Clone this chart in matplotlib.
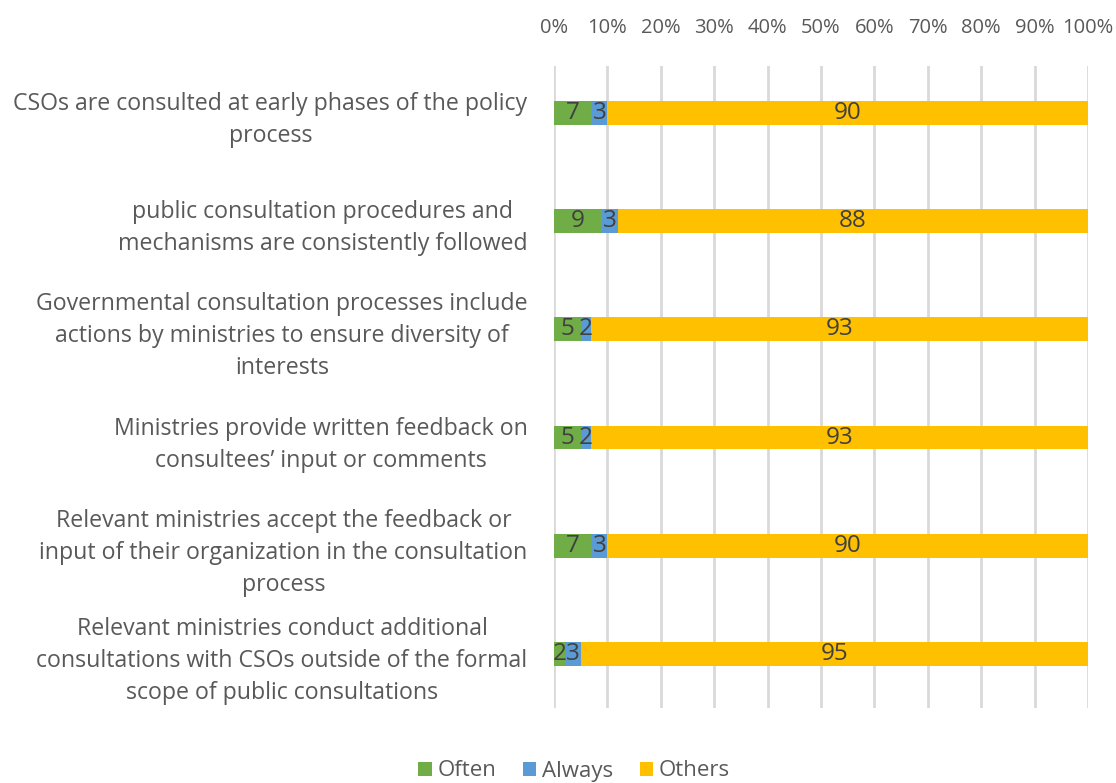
import matplotlib
matplotlib.use("Agg")
import matplotlib.pyplot as plt
import numpy as np

categories = [
    "CSOs are consulted at early phases of the policy\nprocess",
    "public consultation procedures and\nmechanisms are consistently followed",
    "Governmental consultation processes include\nactions by ministries to ensure diversity of\ninterests",
    "Ministries provide written feedback on\nconsultees\u2019 input or comments",
    "Relevant ministries accept the feedback or\ninput of their organization in the consultation\nprocess",
    "Relevant ministries conduct additional\nconsultations with CSOs outside of the formal\nscope of public consultations",
]
often = [7, 9, 5, 5, 7, 2]
always = [3, 3, 2, 2, 3, 3]
others = [90, 88, 93, 93, 90, 95]
series_names = ["Often", "Always", "Others"]
colors = ["#70AD47", "#5B9BD5", "#FFC000"]
ticks = [0, 10, 20, 30, 40, 50, 60, 70, 80, 90, 100]

plt.rcParams['font.family'] = ['Open Sans', 'DejaVu Sans']

fig = plt.figure(figsize=(11.16, 7.83), dpi=100)
ax = fig.add_axes([554/1116, 1-708/783, (1088-554)/1116, (708-66)/783])

y = np.arange(len(categories))
left = np.zeros(len(categories))
for vals, name, c in zip([often, always, others], series_names, colors):
    vals = np.array(vals, dtype=float)
    bars = ax.barh(y, vals, left=left, height=0.22, color=c, label=name, zorder=3)
    for b, v in zip(bars, vals):
        ax.text(b.get_x() + b.get_width()/2, b.get_y() + b.get_height()/2, f"{int(v)}",
                ha='center', va='center', fontsize=17.5, color='#404040', zorder=4)
    left += vals

ax.set_xlim(0, 100)
ax.set_ylim(5.5, -0.434)
ax.set_xticks(ticks)
ax.set_xticklabels([f"{t}%" for t in ticks])
ax.xaxis.tick_top()
ax.tick_params(axis='x', length=0, labelsize=14.5, colors='#595959', pad=20)
ax.set_yticks(y)
ax.set_yticklabels(categories, fontsize=16.7, color='#595959', multialignment='center',
                   linespacing=1.45)
ax.tick_params(axis='y', length=0, pad=19)
ax.grid(axis='x', color='#D9D9D9', linewidth=2, zorder=0)
for s in ax.spines.values():
    s.set_visible(False)

handles, labels = ax.get_legend_handles_labels()
fig.legend(handles, labels, loc='center', bbox_to_anchor=(574/1116, 1-771/783), ncol=3,
           frameon=False, fontsize=16, labelcolor='#595959', handlelength=0.6, handleheight=0.6,
           columnspacing=1.2, handletextpad=0.25)

fig.savefig("out.png", dpi=100)
